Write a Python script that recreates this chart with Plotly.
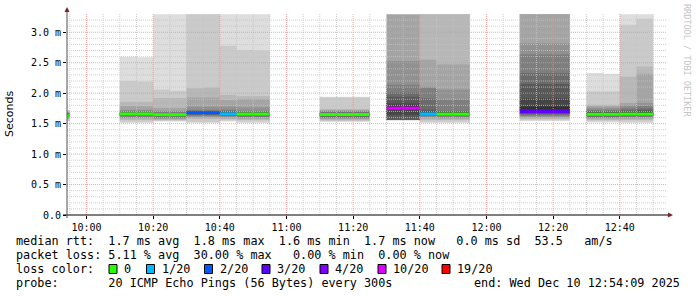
import plotly.graph_objects as go
from datetime import datetime, timedelta

# ------------------------------------------------------------------ data
# start time (HH:MM) of each 5-minute measurement column
col_times = ["09:50",
             "10:10", "10:15", "10:20", "10:25", "10:30", "10:35", "10:40", "10:45", "10:50",
             "11:10", "11:15", "11:20",
             "11:30", "11:35", "11:40", "11:45", "11:50",
             "12:10", "12:15", "12:20",
             "12:30", "12:35", "12:40", "12:45"]

# median rtt per column (ms)
median_ms = [1.630,
             1.658, 1.658, 1.648, 1.648, 1.680, 1.680, 1.660, 1.656, 1.656,
             1.650, 1.650, 1.650,
             1.755, 1.755, 1.660, 1.656, 1.656,
             1.700, 1.700, 1.700,
             1.653, 1.653, 1.656, 1.656]

# lost pings (of 20) per column
loss_count = [0,
              0, 0, 0, 0, 2, 2, 1, 0, 0,
              0, 0, 0,
              6, 6, 1, 0, 0,
              3, 3, 3,
              0, 0, 0, 0]

# the 20 sorted ping rtts (ms) per column, None = no value
pings_ms = [
    [1.535, 1.55, 1.57, 1.59, 1.60, 1.61, 1.615, 1.62, 1.625, 1.628, 1.632, 1.64, 1.65, 1.66, 1.67, 1.68, 1.69, 1.70, 1.72, 1.73],
    [1.51, 1.53, 1.56, 1.585, 1.60, 1.615, 1.625, 1.635, 1.645, 1.652, 1.658, 1.665, 1.675, 1.69, 1.71, 1.73, 1.79, 1.86, 2.20, 2.60],
    [1.51, 1.53, 1.56, 1.585, 1.60, 1.615, 1.625, 1.635, 1.645, 1.652, 1.658, 1.665, 1.675, 1.69, 1.71, 1.73, 1.785, 1.86, 2.19, 2.59],
    [1.535, 1.545, 1.56, 1.57, 1.585, 1.60, 1.615, 1.625, 1.635, 1.645, 1.652, 1.66, 1.67, 1.68, 1.695, 1.71, 1.755, 1.92, 2.06, 3.45],
    [1.535, 1.545, 1.56, 1.57, 1.585, 1.60, 1.615, 1.625, 1.635, 1.645, 1.652, 1.66, 1.67, 1.68, 1.695, 1.71, 1.755, 1.92, 2.04, 3.45],
    [1.52, 1.52, 1.575, 1.595, 1.615, 1.63, 1.645, 1.655, 1.665, 1.672, 1.68, 1.69, 1.70, 1.71, 1.73, 1.78, 1.93, 2.08, 3.50, 3.60],
    [1.52, 1.52, 1.575, 1.595, 1.615, 1.63, 1.645, 1.655, 1.665, 1.672, 1.68, 1.69, 1.70, 1.71, 1.73, 1.78, 1.93, 2.095, 3.50, 3.60],
    [1.535, 1.55, 1.57, 1.59, 1.61, 1.62, 1.63, 1.64, 1.65, 1.66, 1.67, 1.68, 1.695, 1.71, 1.73, 1.78, 1.89, 1.97, 2.78, 3.45],
    [1.51, 1.535, 1.56, 1.58, 1.60, 1.61, 1.62, 1.63, 1.64, 1.65, 1.66, 1.67, 1.68, 1.69, 1.71, 1.77, 1.90, 1.95, 2.71, 3.40],
    [1.51, 1.535, 1.56, 1.58, 1.60, 1.61, 1.62, 1.63, 1.64, 1.65, 1.66, 1.67, 1.68, 1.69, 1.71, 1.77, 1.90, 1.95, 2.70, 3.40],
    [1.53, 1.54, 1.555, 1.57, 1.585, 1.595, 1.61, 1.625, 1.635, 1.645, 1.655, 1.665, 1.675, 1.685, 1.70, 1.71, 1.72, 1.74, 1.935, 1.94],
    [1.53, 1.54, 1.555, 1.57, 1.585, 1.595, 1.61, 1.625, 1.635, 1.645, 1.655, 1.665, 1.675, 1.685, 1.70, 1.71, 1.72, 1.74, 1.935, 1.94],
    [1.53, 1.54, 1.555, 1.57, 1.585, 1.595, 1.61, 1.625, 1.635, 1.645, 1.655, 1.665, 1.675, 1.685, 1.70, 1.71, 1.72, 1.74, 1.935, 1.94],
    [None, None, None, 1.555, 1.56, 1.56, 1.56, 1.565, 1.645, 1.745, 1.79, 1.83, 1.94, 2.01, 2.14, 2.53, 3.50, None, None, None],
    [None, None, None, 1.555, 1.56, 1.56, 1.56, 1.565, 1.645, 1.745, 1.79, 1.83, 1.94, 2.01, 2.14, 2.53, 3.50, None, None, None],
    [1.51, 1.53, 1.56, 1.585, 1.61, 1.62, 1.63, 1.64, 1.65, 1.665, 1.68, 1.70, 1.73, 1.92, 2.08, 2.11, 2.55, 3.40, 3.50, 3.60],
    [1.51, 1.53, 1.56, 1.58, 1.60, 1.615, 1.625, 1.635, 1.645, 1.65, 1.665, 1.68, 1.695, 1.71, 1.89, 2.06, 2.47, 3.40, 3.50, 3.60],
    [1.51, 1.53, 1.56, 1.58, 1.60, 1.615, 1.625, 1.635, 1.645, 1.65, 1.665, 1.68, 1.695, 1.71, 1.89, 2.06, 2.47, 3.40, 3.50, 3.60],
    [1.545, 1.555, 1.575, 1.595, 1.615, 1.63, 1.645, 1.66, 1.69, 1.73, 1.78, 1.92, 2.15, 2.33, 2.64, 2.82, 3.40, 3.50, 3.60, 3.70],
    [1.545, 1.555, 1.575, 1.595, 1.615, 1.63, 1.645, 1.66, 1.69, 1.73, 1.78, 1.92, 2.15, 2.33, 2.64, 2.82, 3.40, 3.50, 3.60, 3.70],
    [1.545, 1.555, 1.575, 1.595, 1.615, 1.63, 1.645, 1.66, 1.69, 1.73, 1.78, 1.92, 2.15, 2.33, 2.64, 2.82, 3.40, 3.50, 3.60, 3.70],
    [1.52, 1.54, 1.56, 1.58, 1.595, 1.605, 1.615, 1.625, 1.635, 1.645, 1.665, 1.675, 1.69, 1.71, 1.73, 1.76, 1.785, 1.81, 2.03, 2.33],
    [1.52, 1.54, 1.56, 1.58, 1.595, 1.605, 1.615, 1.625, 1.635, 1.645, 1.665, 1.675, 1.69, 1.71, 1.73, 1.76, 1.785, 1.81, 2.03, 2.32],
    [1.51, 1.535, 1.56, 1.58, 1.60, 1.61, 1.62, 1.63, 1.64, 1.65, 1.665, 1.68, 1.70, 1.73, 1.76, 1.80, 1.84, 2.27, 3.125, 3.45],
    [1.51, 1.535, 1.56, 1.58, 1.60, 1.61, 1.62, 1.63, 1.64, 1.65, 1.67, 1.69, 1.72, 1.75, 1.79, 1.84, 2.32, 2.44, 3.22, 3.45],
]

loss_levels = [0, 1, 2, 3, 4, 10, 19]
loss_labels = ["0", "1/20", "2/20", "3/20", "4/20", "10/20", "19/20"]
loss_colors = ["#26ff00", "#00b8ff", "#0059ff", "#5e00ff", "#7e00ff", "#dd00ff", "#ff0000"]

y_tickvals = [0, 0.5, 1.0, 1.5, 2.0, 2.5, 3.0]
y_ticktext = ["0.0", "0.5 m", "1.0 m", "1.5 m", "2.0 m", "2.5 m", "3.0 m"]
x_ticktimes = ["10:00", "10:20", "10:40", "11:00", "11:20", "11:40", "12:00", "12:20", "12:40"]

legend_rtt = "median rtt:  1.7 ms avg  1.8 ms max  1.6 ms min  1.7 ms now   0.0 ms sd  53.5   am/s"
legend_loss = "packet loss: 5.11 % avg  30.00 % max   0.00 % min  0.00 % now"
legend_probe = "probe:       20 ICMP Echo Pings (56 Bytes) every 300s"
legend_end = "end: Wed Dec 10 12:54:09 2025"
y_title = "Seconds"
watermark = "RRDTOOL / TOBI OETIKER"
Y_MAX = 3.3

# ------------------------------------------------------------------ geometry
W, H = 697, 297
L, R, T, B = 67, 30, 14, 82
PW, PH = W - L - R, H - T - B


def px(x):
    return (x - L) / PW


def py(y):
    return (H - B - y) / PH


day = datetime(2025, 12, 10)


def at(hhmm):
    h, m = map(int, hhmm.split(":"))
    return day + timedelta(hours=h, minutes=m)


t_end = day + timedelta(hours=12, minutes=54, seconds=9)
t_start = t_end - timedelta(hours=3)
step = timedelta(minutes=5)
CAP = Y_MAX * 0.999   # values above the graph top are capped just below it

fig = go.Figure()

# ------------------------------------------------------------------ smoke: nested step areas (outer = light)
for ibot in range(1, 11):
    itop = 21 - ibot
    g = int(190 / 10 * (10 - ibot)) + 50
    xs, ys = [], []
    run = []

    def flush(run):
        if not run:
            return
        up, dn = [], []
        for t0, lo, hi in run:
            up += [(t0, hi), (t0 + step, hi)]
            dn += [(t0, lo), (t0 + step, lo)]
        for x, y in up + dn[::-1]:
            xs.append(x)
            ys.append(y)
        xs.append(None)
        ys.append(None)

    prev_end = None
    for t, p in zip(col_times, pings_ms):
        lo, hi = p[ibot - 1], p[itop - 1]
        t0 = at(t)
        if lo is None or hi is None:
            flush(run)
            run, prev_end = [], None
            continue
        if prev_end is not None and t0 != prev_end:
            flush(run)
            run = []
        run.append((t0, min(lo, CAP), min(hi, CAP)))
        prev_end = t0 + step
    flush(run)
    fig.add_trace(go.Scatter(x=xs, y=ys, mode="none", fill="toself",
                             fillcolor=f"rgb({g},{g},{g})", hoverinfo="skip", showlegend=False))

# ------------------------------------------------------------------ grid (over the smoke)
minor_t, major_t = [], []
t = at("09:55")
while t < t_end:
    (major_t if t.minute % 20 == 0 else minor_t).append(t)
    t += step
minor_y, major_y = [], []
for i in range(1, 33):
    v = round(i * 0.1, 1)
    (major_y if i % 5 == 0 else minor_y).append(v)


def grid_trace(times, vals, color):
    xs, ys = [], []
    for tt in times:
        xs += [tt, tt, None]
        ys += [0, Y_MAX, None]
    for v in vals:
        xs += [t_start, t_end, None]
        ys += [v, v, None]
    return go.Scatter(x=xs, y=ys, mode="lines", line=dict(color=color, width=1, dash="1px,1px"),
                      opacity=0.8, hoverinfo="skip", showlegend=False)


fig.add_trace(grid_trace(minor_t, minor_y, "#c4c4c4"))
fig.add_trace(grid_trace(major_t, major_y, "#f09090"))

# ------------------------------------------------------------------ median lines colored by loss


def loss_color(n):
    for lv, c in zip(loss_levels, loss_colors):
        if n <= lv:
            return c
    return loss_colors[-1]


segs = {}
for t, m, n in zip(col_times, median_ms, loss_count):
    c = loss_color(n)
    sx, sy = segs.setdefault(c, ([], []))
    sx += [at(t), at(t) + step, None]
    sy += [m, m, None]
for c, (sx, sy) in segs.items():
    fig.add_trace(go.Scatter(x=sx, y=sy, mode="lines", line=dict(color=c, width=3),
                             hoverinfo="skip", showlegend=False))

# ------------------------------------------------------------------ axes
mono = "DejaVu Sans Mono"
fig.update_xaxes(type="date", range=[t_start, t_end], showgrid=False, zeroline=False, showline=False,
                 tickvals=[at(s) for s in x_ticktimes], ticktext=x_ticktimes,
                 ticks="outside", ticklen=3, tickcolor="#000000", tickwidth=1,
                 tickfont=dict(family=mono, size=10, color="#000000"), fixedrange=True)
fig.update_yaxes(range=[0, Y_MAX], showgrid=False, zeroline=False, showline=False,
                 tickvals=y_tickvals, ticktext=y_ticktext,
                 ticks="outside", ticklen=3, tickcolor="#000000", tickwidth=1,
                 tickfont=dict(family=mono, size=10, color="#000000"), fixedrange=True)

shapes = [
    dict(type="line", xref="paper", yref="paper", x0=px(63), x1=px(669), y0=0, y1=0,
         line=dict(color="#000000", width=1), layer="above"),
    dict(type="line", xref="paper", yref="paper", x0=0, x1=0, y0=py(218), y1=py(9),
         line=dict(color="#505050", width=1), layer="above"),
    dict(type="path", xref="paper", yref="paper", fillcolor="#7f1f1f", line=dict(width=0),
         path=f"M {px(64.5)} {py(12)} L {px(69.5)} {py(12)} L {px(67)} {py(7)} Z", layer="above"),
    dict(type="path", xref="paper", yref="paper", fillcolor="#7f1f1f", line=dict(width=0),
         path=f"M {px(668)} {py(212.5)} L {px(668)} {py(217.5)} L {px(673)} {py(215)} Z", layer="above"),
]

ann = []


def text(x, y, s, size=11.8, family=mono, xanchor="left", color="#000000", angle=0):
    ann.append(dict(x=px(x), y=py(y), xref="paper", yref="paper", text=s.replace(" ", "\u00a0"),
                    showarrow=False, xanchor=xanchor, yanchor="middle", textangle=angle,
                    font=dict(family=family, size=size, color=color), borderpad=0))


text(10, 114, y_title, size=11, family="DejaVu Sans", xanchor="center", angle=-90)
text(687, 60, watermark, size=8.5, xanchor="center", color="#c4c4c4", angle=90)
text(15, 241, legend_rtt)
text(15, 255, legend_loss)
text(15, 269, "loss color:")
text(15, 283, legend_probe)
text(681, 283, legend_end, xanchor="right")

box_x = [109, 146.5, 204.5, 262, 320, 378, 442]
for bx, lab, col in zip(box_x, loss_labels, loss_colors):
    shapes.append(dict(type="rect", xref="paper", yref="paper", x0=px(bx), x1=px(bx + 8),
                       y0=py(273.5), y1=py(264.5), fillcolor=col, line=dict(color="#000000", width=1)))
    text(bx + 14, 269, lab)

fig.update_layout(width=W, height=H, margin=dict(l=L, r=R, t=T, b=B, pad=0),
                  paper_bgcolor="#ffffff", plot_bgcolor="#ffffff",
                  showlegend=False, shapes=shapes, annotations=ann)

fig.write_html("out.html")
